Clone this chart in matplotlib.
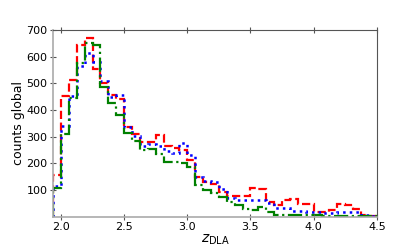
import numpy as np
import matplotlib
matplotlib.use("Agg")
import matplotlib.pyplot as plt

# histogram bins (width 0.0625 in z)
bin_edges = 1.9375 + 0.0625 * np.arange(42)

counts_red = [157, 451, 513, 645, 668, 555, 500, 455, 440, 338,
              310, 281, 281, 307, 265, 258, 250, 213, 150, 131,
              122, 95, 80, 78, 80, 108, 106, 55, 45, 64,
              66, 50, 48, 20, 20, 26, 48, 45, 30, 8, 3]
counts_blue = [114, 342, 451, 565, 615, 580, 510, 450, 455, 335,
               303, 265, 272, 265, 245, 240, 277, 232, 150, 133,
               131, 105, 71, 65, 62, 62, 62, 52, 34, 34,
               22, 22, 20, 20, 15, 15, 18, 18, 18, 7, 3]
counts_green = [108, 310, 445, 575, 652, 645, 488, 425, 380, 315,
                285, 252, 255, 235, 206, 206, 200, 188, 120, 101,
                88, 73, 55, 43, 28, 26, 36, 19, 8, 8,
                7, 7, 6, 6, 5, 5, 5, 4, 4, 3, 2]

yticks = [100, 200, 300, 400, 500, 600, 700]
xticks = [2.0, 2.5, 3.0, 3.5, 4.0, 4.5]

plt.rcParams['mathtext.fontset'] = 'dejavusans'

fig = plt.figure(figsize=(4.15, 2.49), dpi=100)
ax = fig.add_axes([0.128, 0.129, 0.78, 0.751])

ax.stairs(counts_red, bin_edges, color='red', linestyle='--', linewidth=1.6)
ax.stairs(counts_blue, bin_edges, color='blue', linestyle=':', linewidth=1.8)
ax.stairs(counts_green, bin_edges, color='green', linestyle='-.', linewidth=1.6)

ax.set_xlim(1.9375, 4.5)
ax.set_ylim(0, 700)
ax.set_xticks(xticks)
ax.set_xticklabels(['2.0', '2.5', '3.0', '3.5', '4.0', '4.5'])
ax.set_yticks(yticks)

ax.tick_params(axis='both', direction='inout', length=5, width=0.8,
               labelsize=8, pad=1.5, top=True, right=False, color='#555555')
ax.set_xlabel(r'$z_{\mathrm{DLA}}$', fontsize=10, labelpad=0)
ax.set_ylabel('counts global', fontsize=9, labelpad=1)

for side in ['left', 'bottom']:
    ax.spines[side].set_color('#aaaaaa')
    ax.spines[side].set_linewidth(1.2)
for side in ['top', 'right']:
    ax.spines[side].set_color('#555555')
    ax.spines[side].set_linewidth(0.8)

fig.savefig('out.png', dpi=100)
